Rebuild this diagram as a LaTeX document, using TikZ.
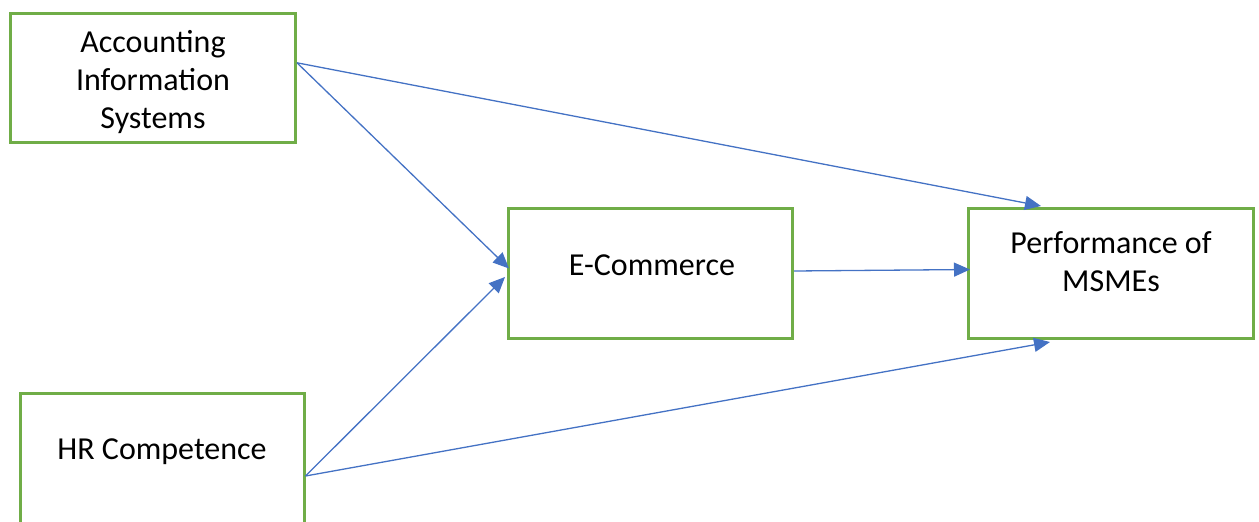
\documentclass[tikz,border=0pt]{standalone}
\usepackage{fontspec}
\setmainfont{Carlito}
\usetikzlibrary{arrows.meta}
\definecolor{boxgreen}{HTML}{70AD47}
\definecolor{linkblue}{HTML}{4472C4}
\tikzset{
  varbox/.style={draw=boxgreen, line width=3pt, fill=white, inner sep=0pt},
  vartext/.style={font=\fontsize{32}{38}\selectfont, align=center, inner sep=0pt, anchor=center},
  link/.style={draw=linkblue, line width=1.3pt, -{Triangle[length=16pt,width=14pt]}}
}
\begin{document}
\begin{tikzpicture}[x=1pt,y=-1pt]
  \useasboundingbox (0,0) rectangle (1259,522);
  \clip (0,0) rectangle (1259,522);

  % variable boxes
  \node[varbox, minimum width=285pt, minimum height=129pt] (ais)  at (153,78.3) {};
  \node[varbox, minimum width=284pt, minimum height=130pt] (ecom) at (650.5,273.5) {};
  \node[varbox, minimum width=285pt, minimum height=130pt] (perf) at (1111,273.5) {};
  \node[varbox, minimum width=284pt, minimum height=132pt] (hr)   at (162,459) {};

  % box captions
  \node[vartext] (aistext)  at (153,82) {Accounting\\Information\\Systems};
  \node[vartext] (ecomtext) at (652,265) {E-Commerce};
  \node[vartext] (perftext) at (1111,262) {Performance of\\MSMEs};
  \node[vartext] (hrtext)   at (162,452) {HR Competence};

  % hypothesised paths
  \draw[link] ([yshift=15.5pt]ais.east) -- ([xshift=-70pt,yshift=1pt]perf.north);
  \draw[link] ([yshift=15.5pt]ais.east) -- ([xshift=2pt,yshift=5pt]ecom.west);
  \draw[link] ([yshift=-17pt]hr.east) -- ([xshift=-2pt,yshift=-3.5pt]ecom.west);
  \draw[link] ([yshift=-17pt]hr.east) -- ([xshift=-61pt,yshift=-2pt]perf.south);
  \draw[link] ([yshift=2.5pt]ecom.east) -- ([xshift=3pt,yshift=4pt]perf.west);
\end{tikzpicture}
\end{document}
